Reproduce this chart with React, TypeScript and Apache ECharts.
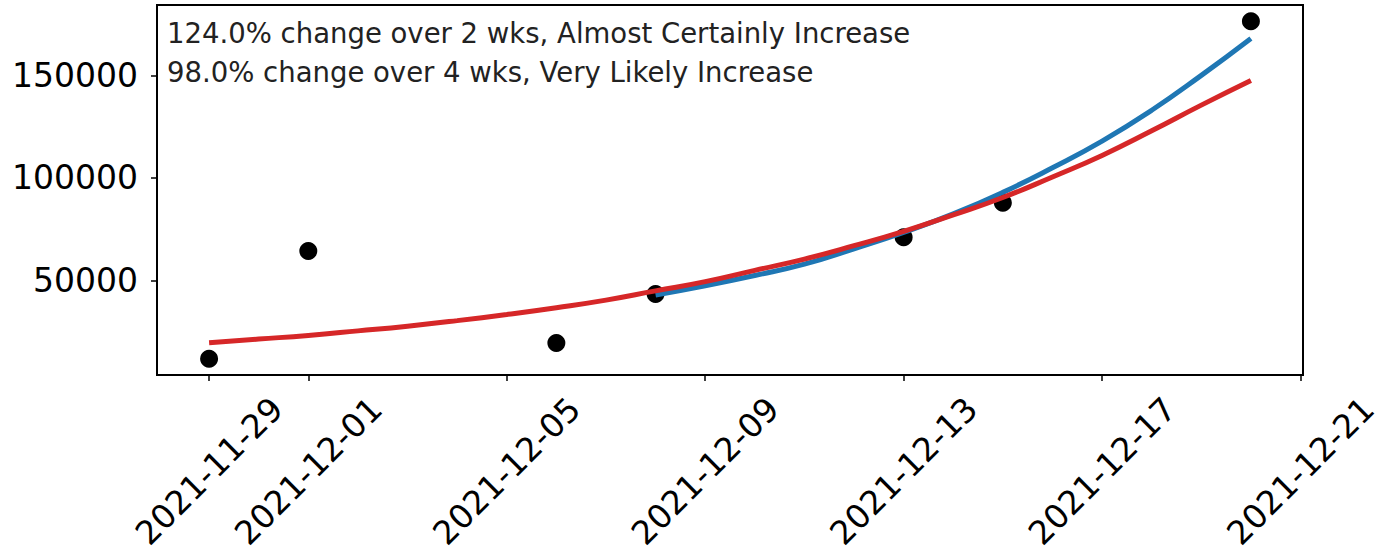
import React, { useEffect, useRef } from "react";
import * as echarts from "echarts";

// Observed points
const obsDates = ["2021-11-29", "2021-12-01", "2021-12-06", "2021-12-08", "2021-12-13", "2021-12-15", "2021-12-20"];
const obsValues = [11900, 64400, 19600, 43500, 71100, 87900, 176400];

// Red fit (all data), daily readings
const fitAllDates = ["2021-11-29", "2021-11-30", "2021-12-01", "2021-12-02", "2021-12-03", "2021-12-04", "2021-12-05", "2021-12-06", "2021-12-07", "2021-12-08", "2021-12-09", "2021-12-10", "2021-12-11", "2021-12-12", "2021-12-13", "2021-12-14", "2021-12-15", "2021-12-16", "2021-12-17", "2021-12-18", "2021-12-19", "2021-12-20"];
const fitAllValues = [19700, 21500, 23300, 25500, 27800, 30500, 33500, 36800, 40500, 45000, 49500, 55000, 60500, 67000, 74000, 82000, 90500, 100500, 111000, 123000, 135500, 147500];

// Blue fit (recent data), daily readings
const fitRecentDates = ["2021-12-08", "2021-12-09", "2021-12-10", "2021-12-11", "2021-12-12", "2021-12-13", "2021-12-14", "2021-12-15", "2021-12-16", "2021-12-17", "2021-12-18", "2021-12-19", "2021-12-20"];
const fitRecentValues = [43000, 47500, 52500, 58000, 65500, 73500, 82500, 93000, 105000, 118000, 133000, 150000, 168000];

const xTickDates = ["2021-11-29", "2021-12-01", "2021-12-05", "2021-12-09", "2021-12-13", "2021-12-17", "2021-12-21"];
const yTickValues = [50000, 100000, 150000];
const notes = [
  "124.0% change over 2 wks, Almost Certainly Increase",
  "98.0% change over 4 wks, Very Likely Increase",
];

const DAY = 86400000;
const EPOCH = Date.parse("2021-11-29T00:00:00Z");
// date string -> day number since 2021-11-29
const dn = (d: string) => Math.round((Date.parse(d + "T00:00:00Z") - EPOCH) / DAY);
const fmt = (v: number) => {
  const d = new Date(EPOCH + Math.round(v) * DAY);
  const p = (n: number) => (n < 10 ? "0" + n : "" + n);
  return d.getUTCFullYear() + "-" + p(d.getUTCMonth() + 1) + "-" + p(d.getUTCDate());
};

const FONT = "DejaVu Sans";

export default function App() {
  const ref = useRef<HTMLDivElement>(null);
  useEffect(() => {
    if (!ref.current) return;
    const chart = echarts.init(ref.current, undefined, { renderer: "svg" });
    const first = dn(obsDates[0]);
    const last = dn(obsDates[obsDates.length - 1]);
    const pad = (last - first) * 0.05;
    chart.setOption({
      animation: false,
      backgroundColor: "#fff",
      grid: {
        left: 157,
        right: 81,
        top: 5,
        bottom: 181,
        show: true,
        borderColor: "#000",
        borderWidth: 2,
        backgroundColor: "transparent",
      },
      xAxis: {
        type: "value",
        min: first - pad,
        max: last + pad,
        splitLine: { show: false },
        axisLine: { show: false, onZero: false },
        axisTick: {
          show: true,
          length: 6,
          lineStyle: { color: "#000", width: 1.5 },
          customValues: xTickDates.map(dn),
        },
        axisLabel: {
          customValues: xTickDates.map(dn),
          formatter: (v: number) => fmt(v),
          rotate: 45,
          align: "center",
          verticalAlign: "middle",
          margin: 96,
          fontFamily: FONT,
          fontSize: 33,
          color: "#000",
          hideOverlap: false,
        },
      },
      yAxis: {
        type: "value",
        min: 4000,
        max: 184300,
        splitLine: { show: false },
        axisLine: { show: false, onZero: false },
        axisTick: {
          show: true,
          length: 6,
          lineStyle: { color: "#000", width: 1.5 },
          customValues: yTickValues,
        },
        axisLabel: {
          customValues: yTickValues,
          formatter: (v: number) => String(v),
          margin: 19,
          fontFamily: FONT,
          fontSize: 33,
          color: "#000",
        },
      },
      graphic: notes.map((t, i) => ({
        type: "text",
        left: 167,
        top: 19 + i * 38.5,
        z: 100,
        style: {
          text: t,
          fontFamily: FONT,
          fontSize: 27.5,
          fill: "#222",
        },
      })),
      series: [
        {
          type: "scatter",
          data: obsDates.map((d, i) => [dn(d), obsValues[i]]),
          symbolSize: 18,
          itemStyle: { color: "#000", opacity: 1 },
          z: 2,
        },
        {
          type: "line",
          data: fitRecentDates.map((d, i) => [dn(d), fitRecentValues[i]]),
          smooth: 0.5,
          showSymbol: false,
          lineStyle: { color: "#1f77b4", width: 5 },
          z: 3,
        },
        {
          type: "line",
          data: fitAllDates.map((d, i) => [dn(d), fitAllValues[i]]),
          smooth: 0.5,
          showSymbol: false,
          lineStyle: { color: "#d62728", width: 5 },
          z: 4,
        },
      ],
    });
    return () => chart.dispose();
  }, []);
  return (
    <div
      ref={ref}
      style={{ position: "absolute", left: 0, top: 0, width: 1384, height: 556, background: "#fff" }}
    />
  );
}
